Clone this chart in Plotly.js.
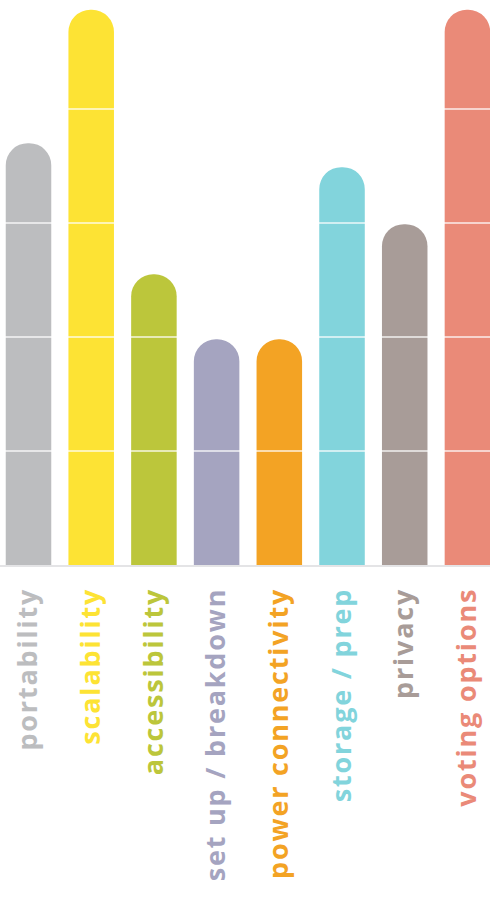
<!DOCTYPE html>
<html>
<head>
<meta charset="utf-8">
<script src="https://cdn.plot.ly/plotly-3.0.1.min.js"></script>
<style>
html,body{margin:0;padding:0;background:#fff;}
#chart{width:490px;height:908px;}
</style>
</head>
<body>
<div id="chart"></div>
<script>
const categories = ["portability","scalability","accessibility","set up / breakdown","power connectivity","storage / prep","privacy","voting options"];
const values = [3.7, 4.87, 2.55, 1.98, 1.98, 3.49, 2.99, 4.87];
const colors = ["#bcbdbf","#fde334","#bcc63b","#a5a4c0","#f3a324","#82d4dc","#a89c98","#ea8a78"];
const gridValues = [1, 2, 3, 4];

const idx = categories.map((_, i) => i);
const tickText = categories.map((c, i) =>
  '<span style="color:' + colors[i] + ';letter-spacing:1.8px">' + c + '</span>');

const trace = {
  type: 'bar',
  x: idx,
  y: values,
  marker: { color: colors, cornerradius: '50%', line: { width: 0 } },
  hoverinfo: 'skip'
};

const shapes = gridValues.map(v => ({
  type: 'line', xref: 'paper', yref: 'y',
  x0: 0, x1: 1, y0: v, y1: v,
  line: { color: 'rgba(255,255,255,0.85)', width: 1.5 },
  layer: 'above'
}));

const layout = {
  width: 490, height: 908,
  margin: { l: 0, r: 0, t: 0, b: 343, pad: 0 },
  paper_bgcolor: '#ffffff', plot_bgcolor: '#ffffff',
  bargap: 0.274,
  showlegend: false,
  font: { family: 'Open Sans', size: 27, color: '#bcbdbf' },
  xaxis: {
    range: [-0.4545, 7.36],
    tickmode: 'array', tickvals: idx, ticktext: tickText,
    tickangle: -90, ticks: '', ticklabelstandoff: 10,
    showgrid: false, zeroline: false,
    showline: true, linecolor: '#e4e4e6', linewidth: 2,
    tickfont: { family: 'Open Sans', size: 27, weight: 700 },
    fixedrange: true
  },
  yaxis: {
    range: [0, 4.956],
    showgrid: false, zeroline: false, showline: false,
    showticklabels: false, ticks: '',
    fixedrange: true
  },
  shapes: shapes
};

Plotly.newPlot('chart', [trace], layout, { displayModeBar: false, staticPlot: true });
</script>
</body>
</html>
